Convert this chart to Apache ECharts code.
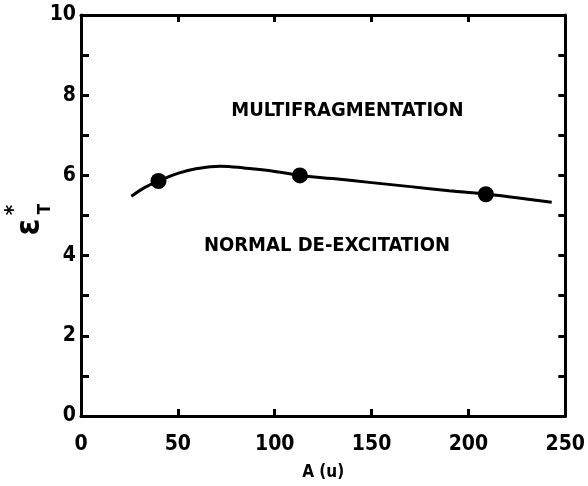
<!DOCTYPE html>
<html><head><meta charset="utf-8">
<script src="https://cdn.jsdelivr.net/npm/echarts@6/dist/echarts.min.js"></script>
<style>html,body{margin:0;padding:0;background:#fff}#c{width:588px;height:486px}</style>
</head><body><div id="c"></div>
<script>
const curveX = [26, 33, 40, 50, 60, 72, 85, 100, 113, 130, 150, 170, 190, 210, 225, 243];
const curveY = [5.48, 5.70, 5.86, 6.05, 6.17, 6.23, 6.18, 6.10, 6.00, 5.92, 5.82, 5.72, 5.62, 5.53, 5.44, 5.33];
const pointX = [40, 113, 209];
const pointY = [5.86, 6.00, 5.53];
const xTicks = [0, 50, 100, 150, 200, 250];
const yTicks = [0, 2, 4, 6, 8, 10];
const regionLabels = ['MULTIFRAGMENTATION', 'NORMAL DE-EXCITATION'];
const regionPos = [[137.5, 7.6], [127, 4.24]];
const xTitle = 'A (u)';

const FONT = '"DejaVu Sans Condensed", "Liberation Sans Narrow", sans-serif';
const chart = echarts.init(document.getElementById('c'));
const axisLine = {show: true, onZero: false, lineStyle: {color: '#000', width: 3}};
const tick = len => ({show: true, inside: true, length: len, lineStyle: {color: '#000', width: 3}});
chart.setOption({
  animation: false,
  backgroundColor: '#fff',
  grid: {left: 81, right: 22, top: 15, bottom: 68},
  xAxis: [
    {type: 'value', min: 0, max: 250, interval: 50, position: 'bottom',
     axisLine: axisLine, axisTick: tick(7),
     axisLabel: {color: '#000', fontFamily: FONT, fontWeight: 'bold', fontSize: 21, margin: 18,
       formatter: v => xTicks.includes(v) ? String(v) : ''},
     splitLine: {show: false},
     name: xTitle, nameLocation: 'middle', nameGap: 48,
     nameTextStyle: {color: '#000', fontFamily: FONT, fontWeight: 'bold', fontSize: 17}},
    {type: 'value', min: 0, max: 250, interval: 50, position: 'top',
     axisLine: axisLine, axisTick: tick(7),
     axisLabel: {show: false}, splitLine: {show: false}}
  ],
  yAxis: [
    {type: 'value', min: 0, max: 10, interval: 1, position: 'left',
     axisLine: axisLine, axisTick: tick(8),
     axisLabel: {color: '#000', fontFamily: FONT, fontWeight: 'bold', fontSize: 21, margin: 5,
       formatter: v => yTicks.includes(v) ? String(v) : ''},
     splitLine: {show: false}},
    {type: 'value', min: 0, max: 10, interval: 1, position: 'right',
     axisLine: axisLine, axisTick: tick(7),
     axisLabel: {show: false}, splitLine: {show: false}}
  ],
  series: [
    {type: 'line', smooth: 0.4, showSymbol: false, symbol: 'none',
     data: curveX.map((x, i) => [x, curveY[i]]),
     lineStyle: {color: '#000', width: 3}},
    {type: 'scatter', symbol: 'circle', symbolSize: 16,
     data: pointX.map((x, i) => [x, pointY[i]]),
     itemStyle: {color: '#000', opacity: 1}},
    {type: 'scatter', symbolSize: 0,
     data: regionLabels.map((t, i) => ({value: regionPos[i], name: t})),
     itemStyle: {opacity: 1},
     label: {show: true, position: 'inside', formatter: p => p.name, color: '#000', opacity: 1,
       fontFamily: FONT, fontWeight: 'bold', fontSize: 20}}
  ],
  graphic: [{
    type: 'group', x: 30, y: 222, rotation: Math.PI / 2,
    children: [
      {type: 'text', x: -5, y: 0, style: {text: 'ε', font: 'bold 34px ' + FONT, fill: '#000', textAlign: 'center', textVerticalAlign: 'middle'}},
      {type: 'text', x: 12, y: -16, style: {text: '*', font: 'bold 22px ' + FONT, fill: '#000', textAlign: 'center', textVerticalAlign: 'middle'}},
      {type: 'text', x: 13, y: 16, style: {text: 'T', font: 'bold 17px ' + FONT, fill: '#000', textAlign: 'center', textVerticalAlign: 'middle'}}
    ]
  }]
});
</script></body></html>
